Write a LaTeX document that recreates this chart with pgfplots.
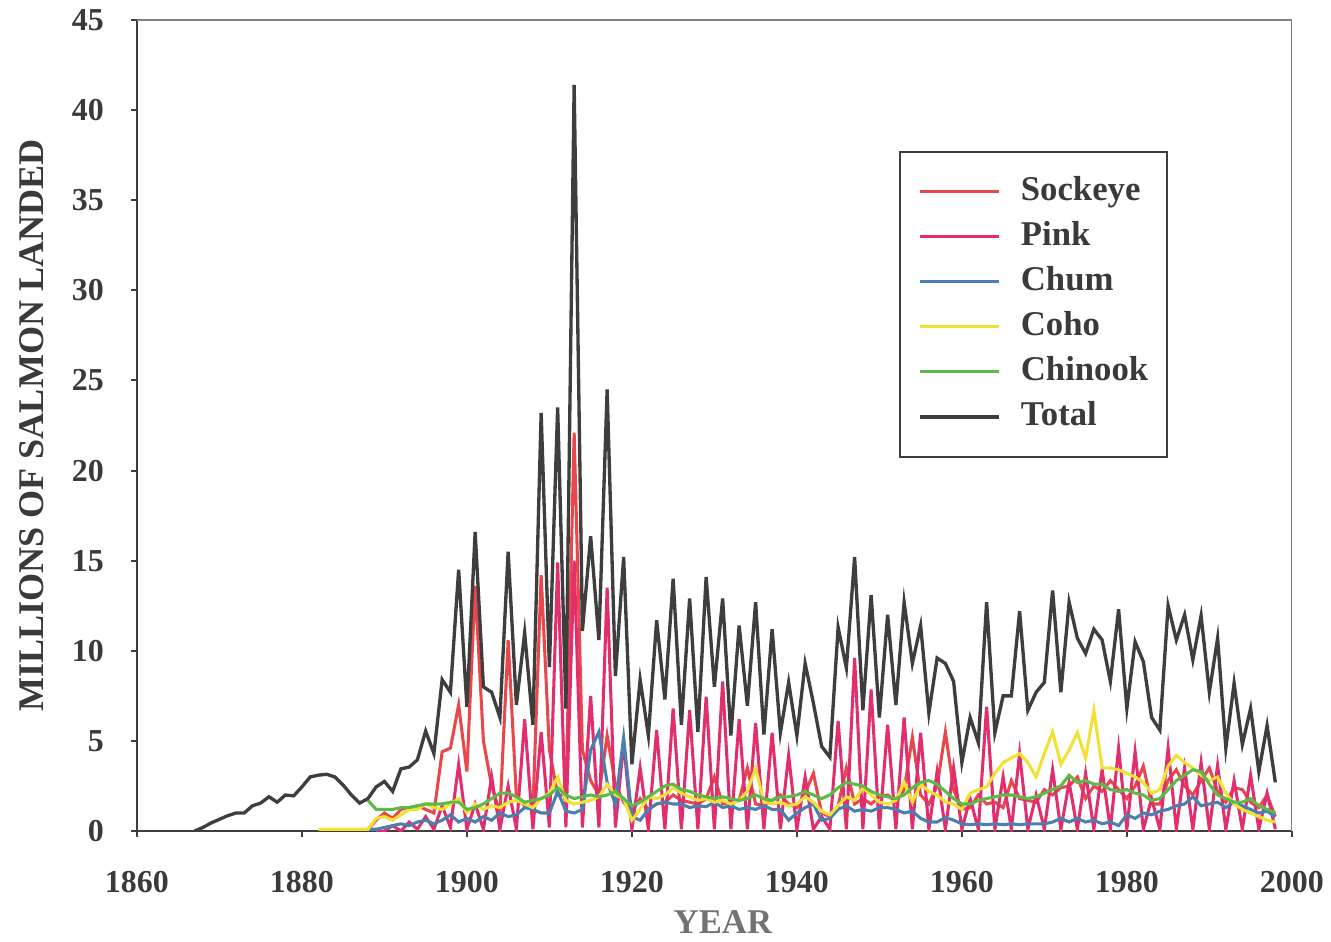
\documentclass[border=0pt]{standalone}
\usepackage{pgfplots}
\pgfplotsset{compat=1.18}
\usepackage{fontspec}
\setmainfont{Liberation Serif}
\definecolor{sock}{HTML}{E8474C}
\definecolor{pinkc}{HTML}{E02E6E}
\definecolor{chum}{HTML}{4A7FB2}
\definecolor{coho}{HTML}{F2E135}
\definecolor{chin}{HTML}{5CBB48}
\definecolor{tot}{HTML}{3E3E3E}
\definecolor{txt}{HTML}{3A3A3A}
\begin{document}
\begin{tikzpicture}
\begin{axis}[
 scale only axis, width=415.8pt, height=292pt,
 xmin=1860, xmax=2000, ymin=0, ymax=45,
 axis lines=left, axis line style={-, draw=tot, line width=0.9pt},
 xtick={1860,1880,...,2000}, ytick={0,5,...,45},
 tick align=outside, major tick length=2pt, tick style={draw=tot, line width=0.7pt},
 /pgf/number format/1000 sep={},
 /pgf/number format/assume math mode=true,
 xticklabel style={anchor=center, inner sep=0pt, yshift=-16.4pt, font=\bfseries\fontsize{11.5}{12}\selectfont, text=txt},
 yticklabel style={anchor=east, inner sep=0pt, xshift=-9.7pt, font=\bfseries\fontsize{11.5}{12}\selectfont, text=txt},
 xlabel={YEAR}, ylabel={MILLIONS OF SALMON LANDED},
 xlabel style={at={(axis description cs:0.5074,-0.1123)}, anchor=center, font=\bfseries\fontsize{12.5}{13}\selectfont, text=gray!90!black},
 ylabel style={at={(axis description cs:-0.0909,0.5)}, anchor=center, font=\bfseries\fontsize{13}{14}\selectfont, text=txt},
 legend style={at={(rel axis cs:0.6597,0.8384)}, anchor=north west, draw=tot, line width=0.7pt,
   font=\bfseries\fontsize{12.5}{13}\selectfont, text=txt, inner xsep=6.8pt, inner ysep=8.6pt,
   row sep=4.7pt, column sep=7.2pt, nodes={inner xsep=0pt, inner ysep=0pt, text height=9pt, text depth=2.5pt}},
 legend cell align=left,
 legend image code/.code={\draw[#1] (0pt,0pt) -- (28.4pt,0pt);},
]
\coordinate (A) at (rel axis cs:0,0);
\draw[gray, line width=0.5pt] (rel axis cs:0,1) -- (rel axis cs:1,1) -- (rel axis cs:1,0);
% Sockeye
\addplot[sock, line width=1.1pt] coordinates {
(1888,0.1)(1889,0.6)(1890,1.0)(1891,0.7)(1892,1.2)(1893,1.3)(1894,1.4)(1895,1.2)(1896,1.0)(1897,4.4)(1898,4.6)(1899,7.0)
(1900,3.3)(1901,13.6)(1902,5.0)(1903,2.5)(1904,1.0)(1905,10.6)(1906,1.9)(1907,1.4)(1908,1.2)(1909,14.2)
(1910,4.5)(1911,2.0)(1912,2.0)(1913,22.1)(1914,4.5)(1915,2.8)(1916,2.0)(1917,5.3)(1918,2.6)(1919,1.6)
(1920,1.1)(1921,1.8)(1922,1.2)(1923,1.5)(1924,1.6)(1925,2.0)(1926,1.7)(1927,1.6)(1928,1.5)(1929,1.8)
(1930,3.0)(1931,1.5)(1932,1.6)(1933,1.7)(1934,3.5)(1935,1.5)(1936,1.4)(1937,1.7)(1938,2.0)(1939,1.5)
(1940,1.3)(1941,2.1)(1942,3.2)(1943,1.0)(1944,0.8)(1945,1.4)(1946,3.5)(1947,1.5)(1948,1.8)(1949,1.5)
(1950,1.9)(1951,2.0)(1952,1.6)(1953,2.3)(1954,5.2)(1955,2.0)(1956,1.5)(1957,2.5)(1958,5.5)(1959,2.3)
(1960,1.2)(1961,1.3)(1962,2.0)(1963,1.5)(1964,1.6)(1965,1.3)(1966,2.8)(1967,1.8)(1968,1.7)(1969,1.6)
(1970,2.3)(1971,2.0)(1972,2.4)(1973,2.5)(1974,3.0)(1975,1.8)(1976,2.5)(1977,2.2)(1978,2.8)(1979,2.3)
(1980,1.8)(1981,2.5)(1982,3.6)(1983,1.5)(1984,1.5)(1985,2.8)(1986,3.4)(1987,2.5)(1988,2.0)(1989,2.8)
(1990,3.5)(1991,2.2)(1992,1.6)(1993,2.4)(1994,2.3)(1995,1.6)(1996,1.3)(1997,2.0)(1998,0.8)};
\addlegendentry{Sockeye}
% Pink
\addplot[pinkc, line width=1.1pt] coordinates {
(1889,0.0)(1890,0.0)(1891,0.3)(1892,0.0)(1893,0.5)(1894,0.1)(1895,0.8)(1896,0.1)(1897,1.4)(1898,0.2)(1899,3.7)
(1900,0.1)(1901,1.5)(1902,0.1)(1903,3.0)(1904,0.1)(1905,2.5)(1906,0.1)(1907,6.2)(1908,0.1)(1909,5.5)
(1910,0.2)(1911,14.9)(1912,0.2)(1913,15.0)(1914,0.2)(1915,7.5)(1916,0.2)(1917,13.5)(1918,0.2)(1919,4.9)
(1920,0.1)(1921,3.5)(1922,0.1)(1923,5.6)(1924,0.1)(1925,6.8)(1926,0.1)(1927,6.7)(1928,0.1)(1929,7.45)
(1930,0.1)(1931,8.3)(1932,0.1)(1933,6.2)(1934,0.1)(1935,6.0)(1936,0.1)(1937,5.45)(1938,0.1)(1939,4.2)
(1940,0.1)(1941,3.0)(1942,0.1)(1943,0.8)(1944,0.1)(1945,6.1)(1946,0.1)(1947,9.6)(1948,0.1)(1949,7.85)
(1950,0.1)(1951,5.9)(1952,0.1)(1953,6.3)(1954,0.1)(1955,5.45)(1956,0.1)(1957,3.3)(1958,0.1)(1959,3.5)
(1960,0.1)(1961,1.8)(1962,0.1)(1963,6.9)(1964,0.1)(1965,3.0)(1966,0.1)(1967,4.3)(1968,0.1)(1969,2.0)
(1970,0.1)(1971,3.4)(1972,0.1)(1973,2.7)(1974,0.1)(1975,3.2)(1976,0.1)(1977,3.4)(1978,0.1)(1979,4.6)
(1980,0.1)(1981,4.4)(1982,0.1)(1983,1.8)(1984,0.1)(1985,4.6)(1986,0.1)(1987,3.5)(1988,0.1)(1989,3.8)
(1990,0.1)(1991,3.65)(1992,0.1)(1993,2.8)(1994,0.1)(1995,3.1)(1996,0.1)(1997,2.1)(1998,0.1)};
\addlegendentry{Pink}
% Chum
\addplot[chum, line width=1.1pt] coordinates {
(1888,0.1)(1889,0.1)(1890,0.2)(1891,0.3)(1892,0.4)(1893,0.3)(1894,0.5)(1895,0.6)(1896,0.4)(1897,0.6)(1898,0.9)(1899,0.5)
(1900,0.7)(1901,0.5)(1902,0.8)(1903,0.6)(1904,1.0)(1905,0.8)(1906,0.9)(1907,1.3)(1908,1.2)(1909,1.0)
(1910,1.0)(1911,2.2)(1912,1.1)(1913,1.0)(1914,1.2)(1915,4.5)(1916,5.5)(1917,2.7)(1918,1.5)(1919,5.2)
(1920,0.8)(1921,0.6)(1922,1.2)(1923,1.5)(1924,1.6)(1925,1.5)(1926,1.5)(1927,1.3)(1928,1.4)(1929,1.35)
(1930,1.6)(1931,1.3)(1932,1.4)(1933,1.2)(1934,1.3)(1935,1.2)(1936,1.4)(1937,1.2)(1938,1.2)(1939,0.6)
(1940,1.0)(1941,1.3)(1942,1.5)(1943,0.6)(1944,0.7)(1945,1.2)(1946,1.4)(1947,1.1)(1948,1.2)(1949,1.1)
(1950,1.3)(1951,1.3)(1952,1.2)(1953,1.0)(1954,1.1)(1955,0.7)(1956,0.5)(1957,0.5)(1958,0.75)(1959,0.6)
(1960,0.4)(1961,0.35)(1962,0.4)(1963,0.35)(1964,0.4)(1965,0.35)(1966,0.4)(1967,0.35)(1968,0.4)(1969,0.4)
(1970,0.4)(1971,0.5)(1972,0.7)(1973,0.5)(1974,0.7)(1975,0.5)(1976,0.6)(1977,0.4)(1978,0.5)(1979,0.3)
(1980,0.9)(1981,0.7)(1982,1.0)(1983,0.9)(1984,1.1)(1985,1.2)(1986,1.4)(1987,1.5)(1988,1.9)(1989,1.4)
(1990,1.5)(1991,1.6)(1992,1.3)(1993,1.6)(1994,1.4)(1995,1.2)(1996,1.0)(1997,1.1)(1998,0.8)};
\addlegendentry{Chum}
% Coho
\addplot[coho, line width=1.1pt] coordinates {
(1882,0.1)(1883,0.1)(1884,0.1)(1885,0.1)(1886,0.1)(1887,0.1)(1888,0.1)(1889,0.7)
(1890,0.8)(1891,0.6)(1892,0.9)(1893,1.2)(1894,1.2)(1895,1.5)(1896,1.3)(1897,1.2)(1898,1.5)(1899,1.8)
(1900,1.0)(1901,1.5)(1902,1.2)(1903,1.4)(1904,1.3)(1905,1.6)(1906,1.7)(1907,1.5)(1908,1.3)(1909,1.8)
(1910,2.1)(1911,3.0)(1912,1.7)(1913,1.5)(1914,1.6)(1915,1.7)(1916,1.9)(1917,2.6)(1918,2.0)(1919,1.8)
(1920,0.6)(1921,1.2)(1922,1.9)(1923,1.8)(1924,2.0)(1925,2.4)(1926,2.1)(1927,1.9)(1928,1.7)(1929,1.8)
(1930,1.6)(1931,1.7)(1932,1.5)(1933,1.7)(1934,2.2)(1935,3.5)(1936,1.6)(1937,1.5)(1938,1.6)(1939,1.4)
(1940,1.5)(1941,1.9)(1942,1.6)(1943,1.1)(1944,0.9)(1945,1.4)(1946,1.9)(1947,1.7)(1948,2.4)(1949,2.0)
(1950,1.6)(1951,1.5)(1952,1.7)(1953,2.7)(1954,1.6)(1955,2.6)(1956,2.2)(1957,2.0)(1958,1.6)(1959,1.5)
(1960,1.2)(1961,2.1)(1962,2.3)(1963,2.45)(1964,3.2)(1965,3.8)(1966,4.05)(1967,4.3)(1968,3.8)(1969,3.0)
(1970,4.3)(1971,5.5)(1972,3.7)(1973,4.5)(1974,5.45)(1975,4.05)(1976,6.7)(1977,3.5)(1978,3.5)(1979,3.4)
(1980,3.2)(1981,3.0)(1982,2.7)(1983,2.1)(1984,2.3)(1985,3.6)(1986,4.2)(1987,3.8)(1988,3.5)(1989,3.1)
(1990,2.8)(1991,3.0)(1992,2.1)(1993,1.5)(1994,1.2)(1995,1.0)(1996,0.8)(1997,0.6)(1998,0.5)};
\addlegendentry{Coho}
% Chinook
\addplot[chin, line width=1.1pt] coordinates {
(1888,1.7)(1889,1.2)(1890,1.2)(1891,1.2)(1892,1.3)(1893,1.3)(1894,1.4)(1895,1.5)(1896,1.5)(1897,1.5)(1898,1.6)(1899,1.6)
(1900,1.2)(1901,1.3)(1902,1.5)(1903,1.8)(1904,2.1)(1905,2.1)(1906,1.9)(1907,1.6)(1908,1.7)(1909,1.8)
(1910,2.0)(1911,2.4)(1912,2.0)(1913,1.8)(1914,1.9)(1915,2.0)(1916,1.9)(1917,2.0)(1918,2.2)(1919,1.8)
(1920,1.4)(1921,1.6)(1922,1.9)(1923,2.2)(1924,2.5)(1925,2.6)(1926,2.3)(1927,2.2)(1928,2.0)(1929,1.9)
(1930,1.8)(1931,1.9)(1932,1.8)(1933,1.7)(1934,1.8)(1935,2.0)(1936,1.8)(1937,1.7)(1938,1.9)(1939,1.9)
(1940,2.0)(1941,2.2)(1942,2.0)(1943,1.8)(1944,2.0)(1945,2.4)(1946,2.7)(1947,2.6)(1948,2.5)(1949,2.2)
(1950,2.0)(1951,1.9)(1952,1.8)(1953,2.0)(1954,2.4)(1955,2.7)(1956,2.8)(1957,2.6)(1958,2.2)(1959,1.8)
(1960,1.5)(1961,1.5)(1962,1.7)(1963,1.8)(1964,1.9)(1965,2.0)(1966,2.0)(1967,1.9)(1968,1.8)(1969,1.9)
(1970,2.1)(1971,2.3)(1972,2.5)(1973,3.1)(1974,2.7)(1975,2.8)(1976,2.6)(1977,2.6)(1978,2.3)(1979,2.2)
(1980,2.3)(1981,2.1)(1982,2.0)(1983,1.7)(1984,1.8)(1985,2.3)(1986,2.8)(1987,3.1)(1988,3.4)(1989,3.3)
(1990,2.6)(1991,2.0)(1992,1.8)(1993,1.6)(1994,1.6)(1995,1.8)(1996,1.4)(1997,1.2)(1998,1.0)};
\addlegendentry{Chinook}
% Total
\addplot[tot, line width=1.2pt] coordinates {
(1867,0)(1868,0.2)(1869,0.45)(1870,0.65)(1871,0.85)(1872,1.0)(1873,1.0)(1874,1.4)(1875,1.55)(1876,1.9)(1877,1.6)(1878,2.0)(1879,1.95)
(1880,2.45)(1881,3.0)(1882,3.1)(1883,3.15)(1884,3.0)(1885,2.55)(1886,2.0)(1887,1.55)(1888,1.8)(1889,2.45)
(1890,2.75)(1891,2.2)(1892,3.45)(1893,3.55)(1894,3.95)(1895,5.55)(1896,4.3)(1897,8.4)(1898,7.7)(1899,14.5)
(1900,6.9)(1901,16.6)(1902,8.0)(1903,7.7)(1904,6.3)(1905,15.5)(1906,7.0)(1907,11.0)(1908,5.9)(1909,23.2)
(1910,9.1)(1911,23.5)(1912,6.8)(1913,41.4)(1914,11.1)(1915,16.35)(1916,10.6)(1917,24.5)(1918,8.6)(1919,15.2)
(1920,3.7)(1921,8.4)(1922,5.3)(1923,11.7)(1924,7.3)(1925,14.0)(1926,5.9)(1927,12.9)(1928,5.5)(1929,14.1)
(1930,8.0)(1931,12.9)(1932,5.3)(1933,11.4)(1934,6.95)(1935,12.7)(1936,5.35)(1937,11.2)(1938,5.45)(1939,8.25)
(1940,5.3)(1941,9.3)(1942,7.1)(1943,4.7)(1944,4.1)(1945,11.3)(1946,9.05)(1947,15.2)(1948,6.7)(1949,13.1)
(1950,6.3)(1951,12.0)(1952,7.0)(1953,12.7)(1954,9.3)(1955,11.4)(1956,6.55)(1957,9.6)(1958,9.3)(1959,8.3)
(1960,3.8)(1961,6.3)(1962,4.9)(1963,12.7)(1964,5.45)(1965,7.5)(1966,7.5)(1967,12.2)(1968,6.7)(1969,7.7)
(1970,8.25)(1971,13.35)(1972,7.7)(1973,12.7)(1974,10.7)(1975,9.85)(1976,11.2)(1977,10.6)(1978,8.3)(1979,12.3)
(1980,6.8)(1981,10.5)(1982,9.4)(1983,6.3)(1984,5.6)(1985,12.5)(1986,10.6)(1987,12.0)(1988,9.5)(1989,11.95)
(1990,7.7)(1991,10.7)(1992,4.6)(1993,8.2)(1994,4.8)(1995,6.8)(1996,3.3)(1997,5.85)(1998,2.7)};
\addlegendentry{Total}
\end{axis}
\pgfresetboundingbox
\path (A) ++(-49.3pt,-39.6pt) rectangle ++(479.2pt,338.8pt);
\end{tikzpicture}
\end{document}
